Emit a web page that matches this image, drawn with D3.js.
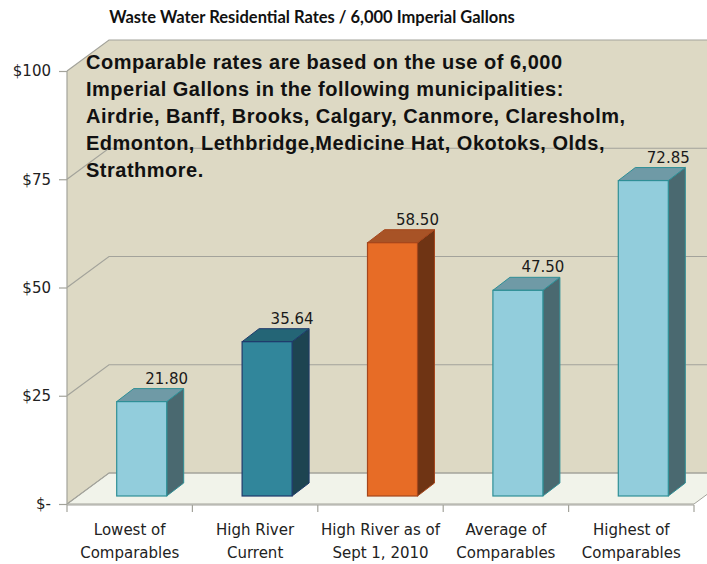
<!DOCTYPE html>
<html>
<head>
<meta charset="utf-8">
<script src="https://cdn.jsdelivr.net/npm/d3@7"></script>
<style>
  body { margin: 0; background: #fff; }
  svg { display: block; }
</style>
</head>
<body>
<svg id="chart" width="707" height="564"></svg>
<script>
// data
const categories = [
    ["Lowest of", "Comparables"],
    ["High River", "Current"],
    ["High River as of", "Sept 1, 2010"],
    ["Average of", "Comparables"],
    ["Highest of", "Comparables"],
];
const values = [21.8, 35.64, 58.5, 47.5, 72.85];
const valueLabels = ["21.80", "35.64", "58.50", "47.50", "72.85"];
const groups = ["comparable", "current", "proposed", "comparable", "comparable"];
const yTicks = [0, 25, 50, 75, 100];
const yTickLabels = ["$-", "$25", "$50", "$75", "$100"];
const noteLines = [
    "Comparable rates are based on the use of 6,000",
    "Imperial Gallons in the following municipalities:",
    "Airdrie, Banff, Brooks, Calgary, Canmore, Claresholm,",
    "Edmonton, Lethbridge,Medicine Hat, Okotoks, Olds,",
    "Strathmore.",
];
const title = "Waste Water Residential Rates / 6,000 Imperial Gallons";

// colours for each group: front face, top, side, outline
const palette = {
    comparable: { front: "#92cddc", top: "#6f9aa6", side: "#4a6970", stroke: "#2f8f96" },
    current: { front: "#31869b", top: "#246576", side: "#1d4451", stroke: "#1f3a6b" },
    proposed: { front: "#e76c26", top: "#a85326", side: "#6f3414", stroke: "#a5461c" },
};

const svg = d3.select("#chart");

// front plane of the 3D box and depth offset of back wall
const plotLeft = 67, plotRight = 694, plotBottom = 504, plotTop = 71;
const depth = { x: 42, y: -31 };

const x = d3.scaleBand().domain(d3.range(categories.length)).range([plotLeft, plotRight]);
const y = d3.scaleLinear().domain([0, 100]).range([plotBottom, plotTop]);

const wallColor = "#ddd9c4";
const floorColor = "#f1f3ea";
const gridColor = "#a3a39b";

// back wall
svg.append("rect")
    .attr("x", plotLeft + depth.x).attr("y", y(100) + depth.y)
    .attr("width", 707).attr("height", y(0) - y(100))
    .attr("fill", wallColor);

// left wall
svg.append("polygon")
    .attr("points", [
        [plotLeft, y(100)], [plotLeft + depth.x, y(100) + depth.y],
        [plotLeft + depth.x, y(0) + depth.y], [plotLeft, y(0)],
    ].join(" "))
    .attr("fill", wallColor);

// floor
svg.append("polygon")
    .attr("points", [
        [plotLeft, y(0)], [plotLeft + depth.x, y(0) + depth.y],
        [plotRight + depth.x, y(0) + depth.y], [plotRight, y(0)],
    ].join(" "))
    .attr("fill", floorColor)
    .attr("stroke", gridColor)
    .attr("stroke-width", 1);

// gridlines: diagonal on the side wall then across the back wall
svg.append("g")
    .selectAll("path")
    .data(yTicks)
    .join("path")
    .attr("d", d => `M${plotLeft},${y(d)} L${plotLeft + depth.x},${y(d) + depth.y} L${707},${y(d) + depth.y}`)
    .attr("fill", "none")
    .attr("stroke", gridColor)
    .attr("stroke-width", 1.2);

// left wall front edge
svg.append("line")
    .attr("x1", plotLeft).attr("x2", plotLeft)
    .attr("y1", y(100)).attr("y2", y(0))
    .attr("stroke", gridColor).attr("stroke-width", 1.2);

// note text on back wall
svg.append("g")
    .selectAll("text")
    .data(noteLines)
    .join("text")
    .attr("x", 86)
    .attr("y", (d, i) => 69 + i * 27)
    .attr("font-family", "Liberation Sans, Arial, sans-serif")
    .attr("font-weight", "bold")
    .attr("font-size", 20)
    .attr("letter-spacing", 0.5)
    .attr("fill", "#111")
    .text(d => d);

// bars
const barW = 50;
const off = { x: 12, y: -8 };
const barD = { x: 17, y: -13 };

const bars = svg.append("g")
    .selectAll("g")
    .data(values.map((v, i) => ({ v, i, label: valueLabels[i], group: groups[i] })))
    .join("g");

const geom = d => {
    const cx = x(d.i) + x.bandwidth() / 2 + off.x;
    return { l: cx - barW / 2, r: cx + barW / 2, t: y(d.v) + off.y, b: y(0) + off.y, cx };
};

bars.append("polygon")
    .attr("points", d => {
        const g = geom(d);
        return [[g.r, g.t], [g.r + barD.x, g.t + barD.y], [g.r + barD.x, g.b + barD.y], [g.r, g.b]].join(" ");
    })
    .attr("fill", d => palette[d.group].side)
    .attr("stroke", d => palette[d.group].stroke)
    .attr("stroke-width", 1);

bars.append("polygon")
    .attr("points", d => {
        const g = geom(d);
        return [[g.l, g.t], [g.l + barD.x, g.t + barD.y], [g.r + barD.x, g.t + barD.y], [g.r, g.t]].join(" ");
    })
    .attr("fill", d => palette[d.group].top)
    .attr("stroke", d => palette[d.group].stroke)
    .attr("stroke-width", 1);

bars.append("rect")
    .attr("x", d => geom(d).l)
    .attr("y", d => geom(d).t)
    .attr("width", barW)
    .attr("height", d => geom(d).b - geom(d).t)
    .attr("fill", d => palette[d.group].front)
    .attr("stroke", d => palette[d.group].stroke)
    .attr("stroke-width", 1.2);

bars.append("text")
    .attr("x", d => geom(d).cx + 25)
    .attr("y", d => geom(d).t + barD.y - 5)
    .attr("text-anchor", "middle")
    .attr("font-family", "DejaVu Sans, sans-serif")
    .attr("font-size", 15)
    .attr("fill", "#1a1a1a")
    .text(d => d.label);

// y axis
const yAxis = d3.axisLeft(y)
    .tickValues(yTicks)
    .tickFormat((d, i) => yTickLabels[i])
    .tickSize(8)
    .tickPadding(8);

svg.append("g")
    .attr("transform", `translate(${plotLeft},0)`)
    .call(yAxis)
    .call(g => g.select(".domain").remove())
    .call(g => g.selectAll("line").attr("stroke", gridColor).attr("stroke-width", 1.2))
    .call(g => g.selectAll("text")
        .attr("font-family", "DejaVu Sans, sans-serif")
        .attr("font-size", 15)
        .attr("fill", "#222"));

// x axis: baseline, boundary ticks and two-line category labels
const xg = svg.append("g");
xg.append("line")
    .attr("x1", plotLeft).attr("x2", plotRight)
    .attr("y1", y(0) + 1).attr("y2", y(0) + 1)
    .attr("stroke", gridColor).attr("stroke-width", 1.2);

xg.selectAll(".tick")
    .data(d3.range(categories.length + 1))
    .join("line")
    .attr("class", "tick")
    .attr("x1", i => i < categories.length ? x(i) : plotRight)
    .attr("x2", i => i < categories.length ? x(i) : plotRight)
    .attr("y1", y(0) + 1).attr("y2", y(0) + 8)
    .attr("stroke", gridColor).attr("stroke-width", 1.2);

xg.selectAll(".cat")
    .data(categories)
    .join("text")
    .attr("class", "cat")
    .attr("x", (d, i) => x(i) + x.bandwidth() / 2)
    .attr("y", 535)
    .attr("text-anchor", "middle")
    .attr("font-family", "DejaVu Sans, sans-serif")
    .attr("font-size", 15)
    .attr("fill", "#222")
    .selectAll("tspan")
    .data(d => d)
    .join("tspan")
    .attr("x", function () { return this.parentNode.getAttribute("x"); })
    .attr("dy", (d, j) => j === 0 ? 0 : 23)
    .text(d => d);

// title
svg.append("text")
    .attr("x", 312)
    .attr("y", 23)
    .attr("text-anchor", "middle")
    .attr("font-family", "Lato, sans-serif")
    .attr("font-weight", "bold")
    .attr("font-size", 16.5)
    .attr("fill", "#111")
    .text(title);
</script>
</body>
</html>
